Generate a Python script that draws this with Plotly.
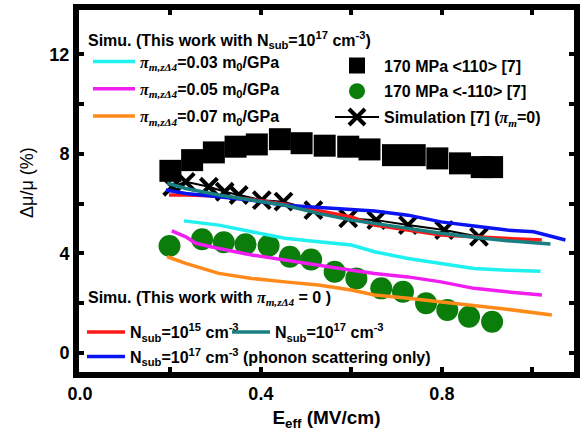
import plotly.graph_objects as go

# ---------------- data ----------------
sq_x = [0.200, 0.248, 0.296, 0.344, 0.391, 0.442, 0.490, 0.541, 0.593, 0.640,
        0.692, 0.740, 0.790, 0.840, 0.888, 0.911]
sq_y = [7.32, 7.75, 8.06, 8.29, 8.38, 8.59, 8.43, 8.33, 8.29, 8.18,
        7.95, 7.95, 7.82, 7.62, 7.47, 7.47]

ci_x = [0.198, 0.270, 0.318, 0.366, 0.417, 0.464, 0.511, 0.563, 0.611, 0.666,
        0.714, 0.765, 0.812, 0.860, 0.911]
ci_y = [4.30, 4.57, 4.45, 4.37, 4.31, 3.87, 3.76, 3.27, 3.00, 2.60,
        2.46, 2.00, 1.73, 1.46, 1.26]

sim7_x = [0.204, 0.234, 0.285, 0.320, 0.351, 0.402, 0.450, 0.516, 0.593, 0.655,
          0.725, 0.805, 0.882]
sim7_y = [6.68, 6.88, 6.68, 6.48, 6.35, 6.14, 6.08, 5.74, 5.41, 5.34,
          5.14, 4.94, 4.67]

cyan_x = [0.230, 0.307, 0.380, 0.453, 0.527, 0.600, 0.651, 0.725, 0.798, 0.871, 0.944, 1.018]
cyan_y = [5.31, 5.14, 4.87, 4.61, 4.47, 4.34, 4.07, 3.80, 3.60, 3.40, 3.33, 3.29]

mag_x = [0.203, 0.234, 0.256, 0.307, 0.380, 0.453, 0.527, 0.600, 0.651, 0.725,
         0.798, 0.871, 0.944, 1.021]
mag_y = [4.91, 4.67, 4.41, 4.20, 3.94, 3.73, 3.53, 3.33, 3.20, 3.06,
         2.86, 2.60, 2.46, 2.33]

ora_x = [0.193, 0.234, 0.307, 0.329, 0.380, 0.453, 0.527, 0.600, 0.651, 0.725,
         0.798, 0.871, 0.944, 1.043]
ora_y = [3.87, 3.60, 3.20, 3.13, 3.00, 2.86, 2.73, 2.53, 2.33, 2.20,
         2.06, 1.93, 1.76, 1.53]

red_x = [0.197, 0.234, 0.307, 0.380, 0.453, 0.527, 0.600, 0.651, 0.725, 0.798,
         0.871, 0.944, 1.021]
red_y = [6.35, 6.35, 6.31, 6.17, 5.98, 5.74, 5.47, 5.14, 4.94, 4.74,
         4.67, 4.61, 4.54]

teal_x = [0.193, 0.234, 0.307, 0.380, 0.453, 0.527, 0.600, 0.651, 0.725, 0.798,
          0.871, 0.944, 1.040]
teal_y = [6.82, 6.61, 6.35, 6.14, 5.94, 5.61, 5.34, 5.21, 5.01, 4.81,
          4.65, 4.51, 4.38]

blue_x = [0.190, 0.234, 0.307, 0.380, 0.453, 0.527, 0.600, 0.651, 0.725, 0.798,
          0.871, 0.944, 1.003, 1.032, 1.073]
blue_y = [6.55, 6.41, 6.28, 6.14, 5.94, 5.85, 5.77, 5.71, 5.54, 5.27,
          5.10, 4.94, 4.87, 4.74, 4.54]

x_tickvals = [0.0, 0.4, 0.8]
x_ticktext = ["0.0", "0.4", "0.8"]
x_minor = [0.2, 0.6, 1.0]
y_tickvals = [0, 4, 8, 12]
y_ticktext = ["0", "4", "8", "12"]
y_minor = [2, 6, 10]

# ---------------- styling ----------------
F = "Liberation Sans"
PI = '<span style="font-family:\'Liberation Serif\'"><i>π</i></span>'
PISUB = '<sub><span style="font-family:\'Liberation Serif\'"><i>m,zΔ4</i></span></sub>'
PIM = '<sub><span style="font-family:\'Liberation Serif\'"><i>m</i></span></sub>'

fig = go.Figure()

def line_trace(x, y, color, name, legend, group):
    return go.Scatter(x=x, y=y, mode="lines", line=dict(color=color, width=3.5),
                      name=name, legend=legend, legendgroup=group)

fig.add_trace(go.Scatter(x=sq_x, y=sq_y, mode="markers",
                         marker=dict(symbol="square", size=22, color="black"),
                         name="170 MPa &lt;110&gt; [7]", legend="legend2", legendgroup="g1"))
fig.add_trace(go.Scatter(x=ci_x, y=ci_y, mode="markers",
                         marker=dict(symbol="circle", size=22, color="#0a7d0a"),
                         name="170 MPa &lt;-110&gt; [7]", legend="legend2", legendgroup="g2"))
fig.add_trace(go.Scatter(x=sim7_x, y=sim7_y, mode="lines+markers",
                         line=dict(color="black", width=2),
                         marker=dict(symbol="x-thin", size=17, color="black",
                                     line=dict(color="black", width=4)),
                         name="Simulation [7] (" + PI + PIM + "=0)",
                         legend="legend2", legendgroup="g3"))

fig.add_trace(line_trace(red_x, red_y, "#ff1a1a", "N<sub>sub</sub>=10<sup>15</sup> cm<sup>-3</sup>", "legend3", "r"))
fig.add_trace(line_trace(blue_x, blue_y, "#0a14f0", "N<sub>sub</sub>=10<sup>17</sup> cm<sup>-3</sup> (phonon scattering only)", "legend4", "b"))
fig.add_trace(line_trace(teal_x, teal_y, "#188080", "N<sub>sub</sub>=10<sup>17</sup> cm<sup>-3</sup>", "legend5", "t"))
fig.add_trace(line_trace(cyan_x, cyan_y, "#1ff0f0", PI + PISUB + "=0.03 m<sub>0</sub>/GPa", "legend", "c"))
fig.add_trace(line_trace(mag_x, mag_y, "#f01ef0", PI + PISUB + "=0.05 m<sub>0</sub>/GPa", "legend", "m"))
fig.add_trace(line_trace(ora_x, ora_y, "#ff8a1a", PI + PISUB + "=0.07 m<sub>0</sub>/GPa", "legend", "o"))

W, H = 587, 436
L, R, T, B = 79, 13, 10, 64
pw, ph = W - L - R, H - T - B

def px(xp):
    return (xp - L) / pw

def py(yp):
    return 1 - (yp - T) / ph

lfont = dict(family=F, size=16, color="black", weight="bold")
common = dict(xanchor="left", yanchor="top", bgcolor="rgba(0,0,0,0)", font=lfont,
              borderwidth=0, itemclick=False)

tickfont = dict(family=F, size=18, color="black", weight="bold")
axis_common = dict(ticks="inside", ticklen=5, tickwidth=4, tickcolor="black",
                   showline=True, linewidth=6, linecolor="black", mirror="allticks",
                   showgrid=False, zeroline=False, automargin=False, tickfont=tickfont)

fig.update_layout(
    template="none",
    width=W, height=H,
    margin=dict(l=L, r=R, t=T, b=B, autoexpand=False),
    paper_bgcolor="white", plot_bgcolor="white",
    font=dict(family=F, color="black"),
    showlegend=True,
    legend=dict(x=px(88), y=py(44.5), tracegroupgap=3.5, itemwidth=42, **common),
    legend2=dict(x=px(330), y=py(48.5), tracegroupgap=2, itemwidth=44, **common),
    legend3=dict(x=px(82), y=py(315), itemwidth=38, **common),
    legend5=dict(x=px(227), y=py(315), itemwidth=38, **common),
    legend4=dict(x=px(82), y=py(339.5), itemwidth=38, **common),
    xaxis=dict(range=[-0.002, 1.092], tickvals=x_tickvals, ticktext=x_ticktext,
               minor=dict(tickvals=x_minor, ticks="inside", ticklen=5, tickwidth=4, tickcolor="black"),
               title=dict(text="E<sub>eff</sub> (MV/cm)", standoff=10,
                          font=dict(family=F, size=19, color="black", weight="bold")),
               **axis_common),
    yaxis=dict(range=[-0.76, 13.78], tickvals=y_tickvals, ticktext=y_ticktext,
               minor=dict(tickvals=y_minor, ticks="inside", ticklen=5, tickwidth=4, tickcolor="black"),
               **axis_common),
    annotations=[
        dict(text="Simu. (This work with N<sub>sub</sub>=10<sup>17</sup> cm<sup>-3</sup>)",
             xref="paper", yref="paper", x=px(86), y=py(40), xanchor="left", yanchor="middle",
             showarrow=False, font=lfont),
        dict(text="Simu. (This work with " + PI + PISUB + " = 0 )",
             xref="paper", yref="paper", x=px(86), y=py(298), xanchor="left", yanchor="middle",
             showarrow=False, font=lfont),
        dict(text="Δμ/μ (%)", textangle=-90,
             xref="paper", yref="paper", x=px(27), y=py(183), xanchor="center", yanchor="middle",
             showarrow=False, font=dict(family=F, size=18, color="black")),
    ],
)

fig.write_html("out.html", config={"displayModeBar": False},
               post_script="document.body.style.margin='0px';")
